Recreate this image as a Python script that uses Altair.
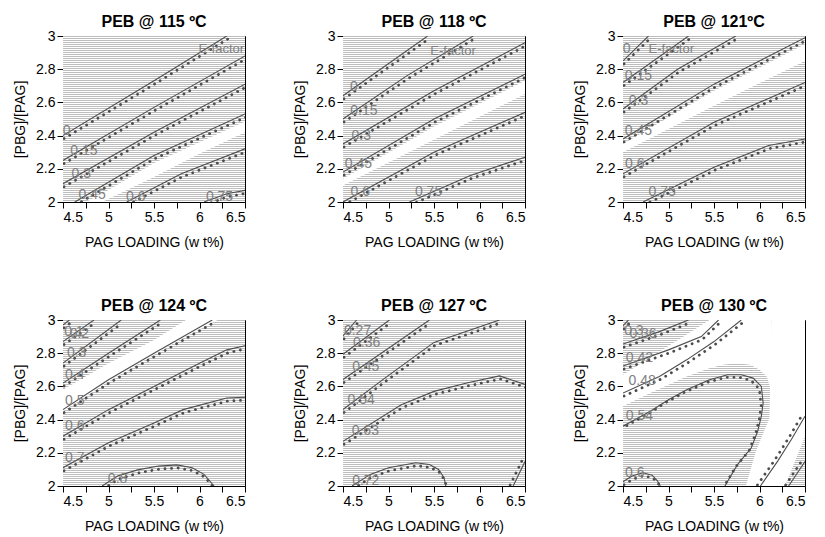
import altair as alt
import pandas as pd

FONT = "Liberation Sans"
W, H = 182, 166

TITLES = ["PEB @ 115 ºC", "PEB @ 118 ºC", "PEB @ 121ºC",
          "PEB @ 124 ºC", "PEB @ 127 ºC", "PEB @ 130 ºC"]
X_TITLE = "PAG LOADING (w t%)"
Y_TITLE = "[PBG]/[PAG]"
X_TICKS = [4.5, 4.75, 5.0, 5.25, 5.5, 5.75, 6.0, 6.25, 6.5]
Y_TICKS = [2.0, 2.2, 2.4, 2.6, 2.8, 3.0]

# ---------------- PEB 115 ----------------
LINES_115 = [
    ("0", [(4.5, 2.40), (5.5, 2.73), (6.3, 3.0)]),
    ("0.15", [(4.5, 2.25), (5.5, 2.57), (6.5, 2.88)]),
    ("0.3", [(4.5, 2.11), (5.5, 2.42), (6.5, 2.71)]),
    ("0.45", [(4.63, 2.0), (5.5, 2.28), (6.5, 2.53)]),
    ("0.6", [(5.2, 2.0), (5.8, 2.17), (6.5, 2.32)]),
    ("0.75", [(6.05, 2.0), (6.3, 2.05), (6.5, 2.07)]),
]
LABELS_115 = [("0", 4.54, 2.43), ("0.15", 4.73, 2.31), ("0.3", 4.70, 2.17),
              ("0.45", 4.82, 2.04), ("0.6", 5.30, 2.03), ("0.75", 6.22, 2.03)]
EF_115 = [(6.24, 2.92)]
WHITE_115 = [([4.75, 4.93, 5.5, 6.0, 6.5], [2.0, 2.0, 2.15, 2.29, 2.42], [2.0, 2.05, 2.235, 2.36, 2.485])]

# ---------------- PEB 118 ----------------
LINES_118 = [
    ("0", [(4.5, 2.64), (5.43, 3.0)]),
    ("0.15", [(4.5, 2.50), (5.2, 2.76), (5.93, 3.0)]),
    ("0.3", [(4.5, 2.35), (5.5, 2.67), (6.5, 2.96)]),
    ("0.45", [(4.5, 2.18), (5.5, 2.50), (6.5, 2.77)]),
    ("0.6", [(4.5, 2.0), (5.5, 2.30), (6.5, 2.54)]),
    ("0.75", [(5.23, 2.0), (5.9, 2.16), (6.5, 2.27)]),
]
LABELS_118 = [("0", 4.62, 2.69), ("0.15", 4.73, 2.55), ("0.3", 4.70, 2.40),
              ("0.45", 4.67, 2.23), ("0.6", 4.69, 2.06), ("0.75", 5.44, 2.06)]
EF_118 = [(5.71, 2.91)]
WHITE_118 = [([4.5, 5.5, 6.5], [2.10, 2.375, 2.65], [2.14, 2.455, 2.73])]

# ---------------- PEB 121 ----------------
LINES_121 = [
    ("0", [(4.5, 2.85), (4.78, 3.0)]),
    ("0.15", [(4.5, 2.72), (5.22, 3.0)]),
    ("0.3", [(4.5, 2.56), (5.1, 2.80), (5.74, 3.0)]),
    ("0.45", [(4.5, 2.38), (5.5, 2.71), (6.5, 2.99)]),
    ("0.6", [(4.5, 2.17), (5.5, 2.48), (6.5, 2.72)]),
    ("0.75", [(4.72, 2.0), (5.5, 2.21), (6.1, 2.34), (6.5, 2.38)]),
]
LABELS_121 = [("0", 4.54, 2.92), ("0.15", 4.67, 2.76), ("0.3", 4.67, 2.61),
              ("0.45", 4.67, 2.43), ("0.6", 4.63, 2.23), ("0.75", 4.93, 2.06)]
EF_121 = [(5.03, 2.92)]
WHITE_121 = [([4.5, 5.5, 6.5], [2.30, 2.58, 2.85], [2.35, 2.67, 2.95])]

# ---------------- PEB 124 ----------------
LINES_124 = [
    ("0.1", [(4.5, 2.97), (4.57, 3.0)]),
    ("0.2", [(4.5, 2.87), (4.84, 3.0)]),
    ("0.3", [(4.5, 2.74), (5.14, 3.0)]),
    ("0.4", [(4.5, 2.62), (5.0, 2.80), (5.57, 3.0)]),
    ("0.5", [(4.5, 2.46), (5.0, 2.64), (5.5, 2.80), (6.14, 3.0)]),
    ("0.6", [(4.5, 2.30), (5.0, 2.46), (5.5, 2.60), (6.0, 2.74), (6.3, 2.82), (6.5, 2.845)]),
    ("0.7", [(4.5, 2.11), (5.0, 2.26), (5.5, 2.38), (5.82, 2.46), (6.3, 2.53), (6.5, 2.535)]),
    ("0.8", [(4.93, 2.0), (5.1, 2.06), (5.32, 2.097), (5.55, 2.12), (5.75, 2.127),
             (5.92, 2.11), (6.05, 2.07), (6.16, 2.0)]),
]
LABELS_124 = [("0.1", 4.62, 2.93), ("0.2", 4.68, 2.915), ("0.3", 4.65, 2.80),
              ("0.4", 4.63, 2.67), ("0.5", 4.63, 2.515), ("0.6", 4.63, 2.36),
              ("0.7", 4.63, 2.17), ("0.8", 5.10, 2.04)]
EF_124 = []
WHITE_124 = [([4.5, 5.0, 5.5, 5.85, 6.2], [2.45, 2.63, 2.79, 2.90, 3.0], [2.58, 2.74, 2.88, 3.0, 3.0])]

# ---------------- PEB 127 ----------------
LINES_127 = [
    ("0.27", [(4.5, 2.905), (4.65, 3.0)]),
    ("0.36", [(4.5, 2.794), (5.01, 3.0)]),
    ("0.45", [(4.5, 2.642), (5.0, 2.83), (5.45, 3.0)]),
    ("0.54", [(4.5, 2.461), (4.96, 2.65), (5.5, 2.865), (6.22, 3.0)]),
    ("0.63", [(4.5, 2.269), (5.14, 2.49), (5.5, 2.57), (5.86, 2.62), (6.22, 2.663), (6.5, 2.612)]),
    ("0.72", [(4.6, 2.0), (4.8, 2.07), (5.0, 2.11), (5.3, 2.14), (5.45, 2.13),
              (5.55, 2.10), (5.61, 2.05), (5.63, 2.0)]),
    ("0.72b", [(6.37, 2.0), (6.5, 2.147)]),
]
LABELS_127 = [("0.27", 4.66, 2.935), ("0.36", 4.76, 2.86), ("0.45", 4.75, 2.717),
              ("0.54", 4.70, 2.521), ("0.63", 4.745, 2.33), ("0.72", 4.75, 2.03)]
EF_127 = []
WHITE_127 = []

# ---------------- PEB 130 ----------------
LINES_130 = [
    ("0.3", [(4.5, 2.965), (4.56, 3.0)]),
    ("0.36", [(4.5, 2.855), (4.9, 2.93), (5.22, 3.0)]),
    ("0.42", [(4.5, 2.723), (5.0, 2.82), (5.36, 2.90), (5.55, 3.0)]),
    ("0.48", [(4.5, 2.56), (4.9, 2.66), (5.2, 2.76), (5.5, 2.87), (5.8, 3.0)]),
    ("0.54", [(4.5, 2.36), (4.8, 2.45), (5.0, 2.52), (5.2, 2.58), (5.45, 2.64), (5.65, 2.67),
              (5.8, 2.67), (5.93, 2.65), (6.02, 2.6), (6.04, 2.5), (6.02, 2.42), (5.98, 2.33),
              (5.91, 2.23), (5.76, 2.13), (5.64, 2.02), (5.62, 2.0)]),
    ("0.6", [(4.5, 2.026), (4.6, 2.06), (4.72, 2.08), (4.82, 2.065), (4.88, 2.03), (4.91, 2.0)]),
    ("0.54b", [(6.01, 2.0), (6.2, 2.15), (6.35, 2.28), (6.5, 2.42)]),
    ("0.48b", [(6.32, 2.0), (6.5, 2.147)]),
]
LABELS_130 = [("0.3", 4.62, 2.935), ("0.36", 4.72, 2.915), ("0.42", 4.68, 2.774),
              ("0.48", 4.71, 2.632), ("0.54", 4.68, 2.42), ("0.6", 4.63, 2.077)]
EF_130 = []
WHITE_130 = [
    ([4.5, 4.8, 5.0, 5.2, 5.45, 5.6, 5.75, 5.9, 6.0, 6.08, 6.13],
     [2.48, 2.56, 2.61, 2.66, 2.71, 2.73, 2.74, 2.73, 2.70, 2.66, 2.57],
     [2.67, 2.774, 2.844, 2.913, 3.0, 3.0, 3.0, 3.0, 3.0, 3.0, 3.0]),
    ([5.85, 5.96, 6.11, 6.13, 6.28, 6.5],
     [2.0, 2.0, 2.0, 2.0, 2.0, 2.3],
     [2.0, 2.21, 2.41, 3.0, 3.0, 3.0]),
]

PANELS = [
    (TITLES[0], LINES_115, LABELS_115, WHITE_115, EF_115),
    (TITLES[1], LINES_118, LABELS_118, WHITE_118, EF_118),
    (TITLES[2], LINES_121, LABELS_121, WHITE_121, EF_121),
    (TITLES[3], LINES_124, LABELS_124, WHITE_124, EF_124),
    (TITLES[4], LINES_127, LABELS_127, WHITE_127, EF_127),
    (TITLES[5], LINES_130, LABELS_130, WHITE_130, EF_130),
]

# ---------------- styling ----------------
LINE_COLOR = "#4d4d4d"
LABEL_COLOR = "#7f7f7f"
STRIPE = "#bdbdbd"
TICK_LEN = 6
DEFAULT_DOT_SHIFT = (1, 3)
DOT_SHIFT = {"0.54b": (-3, -1), "0.48b": (-3, -1), "0.72b": (-3, -1)}
BIG_CURVE_SHIFT = {(5, "0.54"): (-2, 2.5)}

stops = []
for k in range(H // 2 + 1):
    a, m, b = 2 * k / H, (2 * k + 1) / H, (2 * k + 2) / H
    stops += [{"offset": min(a, 1), "color": STRIPE}, {"offset": min(m, 1), "color": STRIPE},
              {"offset": min(m, 1), "color": "white"}, {"offset": min(b, 1), "color": "white"}]
STRIPE_FILL = {"gradient": "linear", "x1": 0, "y1": 0, "x2": 0, "y2": 1, "stops": stops}

XS = alt.Scale(domain=[4.5, 6.5], nice=False, zero=False)
YS = alt.Scale(domain=[2.0, 3.0], nice=False, zero=False)
XAX = alt.Axis(values=X_TICKS, format="~g", title=X_TITLE, ticks=True, domain=True,
               tickSize=TICK_LEN, tickWidth=1, tickColor="black",
               labelExpr="(datum.value * 2) % 1 == 0 ? datum.label : ''")
YAX = alt.Axis(values=Y_TICKS, format="~g", title=Y_TITLE, ticks=True, domain=True,
               tickSize=TICK_LEN, tickWidth=1, tickColor="black")


def ex(f):
    return alt.X(f, type="quantitative", scale=XS, axis=XAX)


def ey(f):
    return alt.Y(f, type="quantitative", scale=YS, axis=YAX)


def needs_order(pts):
    xs = [p[0] for p in pts]
    return any(b < a for a, b in zip(xs, xs[1:]))


def line_layer(pts, **mk):
    df = pd.DataFrame({"x": [p[0] for p in pts], "y": [p[1] for p in pts],
                       "i": list(range(len(pts)))})
    enc = dict(x=ex("x"), y=ey("y"))
    if needs_order(pts):
        enc["order"] = "i:Q"
    return alt.Chart(df).mark_line(**mk).encode(**enc)


def build(idx, title, lines, labels, whites, ef):
    layers = []
    bg = alt.Chart(pd.DataFrame({"k": [0]})).mark_rect(fill=STRIPE_FILL, strokeWidth=0).encode(
        x=alt.value(0), x2=alt.value(W), y=alt.value(0), y2=alt.value(H))
    layers.append(bg)

    for xs, lo, hi in whites:
        wdf = pd.DataFrame({"x": xs, "lo": lo, "hi": hi})
        layers.append(alt.Chart(wdf).mark_area(color="white", opacity=1, clip=True).encode(
            x=ex("x"), y=ey("lo"), y2="hi"))

    for name, pts in lines:
        layers.append(line_layer(pts, color=LINE_COLOR, strokeWidth=1.1, clip=True))
    for name, pts in lines:
        dx, dy = BIG_CURVE_SHIFT.get((idx, name), DOT_SHIFT.get(name, DEFAULT_DOT_SHIFT))
        layers.append(line_layer(pts, color=LINE_COLOR, strokeWidth=2.8, strokeDash=[0.1, 6.5],
                                 strokeCap="round", clip=True, xOffset=dx, yOffset=dy))

    tdf = pd.DataFrame([{"t": t, "x": xv, "y": yv} for t, xv, yv in labels])
    layers.append(alt.Chart(tdf).mark_text(
        font=FONT, fontSize=14, color=LABEL_COLOR, align="center", baseline="middle").encode(
        x=ex("x"), y=ey("y"), text="t:N"))
    if ef:
        edf = pd.DataFrame([{"x": xv, "y": yv, "t": "E-factor"} for xv, yv in ef])
        layers.append(alt.Chart(edf).mark_text(
            font=FONT, fontSize=13, color=LABEL_COLOR, align="center", baseline="middle").encode(
            x=ex("x"), y=ey("y"), text="t:N"))

    return alt.layer(*layers).properties(width=W, height=H, title=title)


charts = [build(i, *p) for i, p in enumerate(PANELS)]
chart = alt.concat(*charts, columns=3, spacing=47).configure_view(
    stroke="black", strokeWidth=1
).configure_axis(
    grid=False, domainColor="black", tickColor="black", labelColor="black",
    titleColor="black", labelFont=FONT, titleFont=FONT, labelFontSize=14,
    titleFontSize=14, titleFontWeight="normal", labelPadding=2,
    titlePadding=8
).configure_axisX(titlePadding=11).configure_title(
    font=FONT, fontSize=16, fontWeight="bold", anchor="middle", offset=-1, color="black"
).properties(background="white", padding=5)

chart.save("out.html", embed_options={"renderer": "svg", "actions": False})
